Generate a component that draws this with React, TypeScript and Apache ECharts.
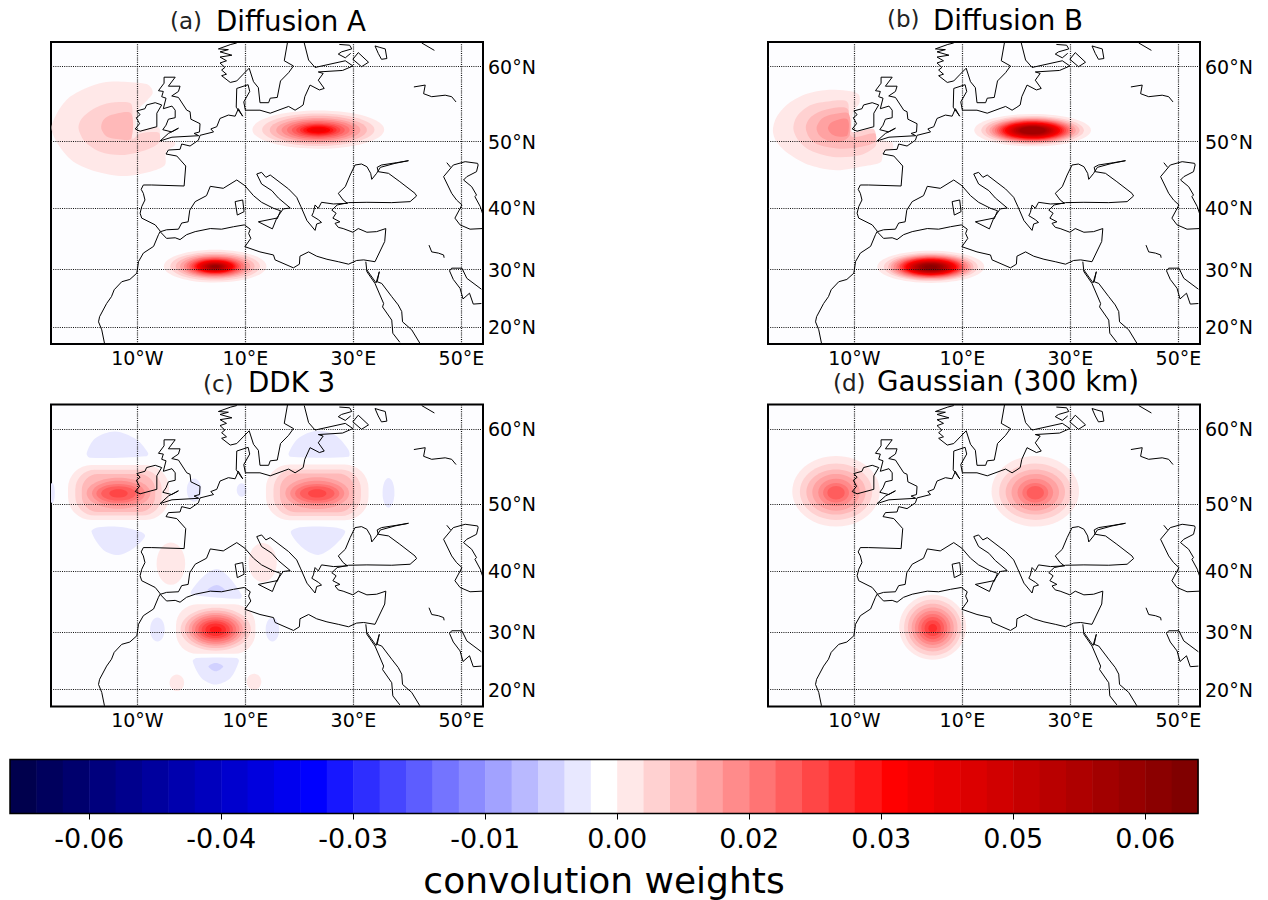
import React, { useEffect, useRef } from "react";
import * as echarts from "echarts";

// ---------- axes ----------
const lonTicks = [-10, 10, 30, 50];
const lonLabels = ["10°W", "10°E", "30°E", "50°E"];
const latTicks = [20, 30, 40, 50, 60];
const latLabels = ["20°N", "30°N", "40°N", "50°N", "60°N"];
// the map's parallels are not evenly spaced: latitude to northing
const latKnots = [17, 20, 30, 40, 50, 60, 63.33];
const northKnots = [0, 17, 74.3, 135.7, 202.3, 277.3, 302];

// ---------- colour scale ----------
const levelEdges = [
  -0.0736, -0.0704, -0.0672, -0.064, -0.0608, -0.0576, -0.0544, -0.0512, -0.048, -0.0448, -0.0416, -0.0384,
  -0.0352, -0.032, -0.0288, -0.0256, -0.0224, -0.0192, -0.016, -0.0128, -0.0096, -0.0064, -0.0032, 0, 0.0032,
  0.0064, 0.0096, 0.0128, 0.016, 0.0192, 0.0224, 0.0256, 0.0288, 0.032, 0.0352, 0.0384, 0.0416, 0.0448, 0.048,
  0.0512, 0.0544, 0.0576, 0.0608, 0.064, 0.0672, 0.0704,
];
const levelColors = [
  "#00004d", "#00005d", "#00006d", "#00007d", "#00008d", "#00009e", "#0000ae", "#0000be", "#0000ce", "#0000de",
  "#0000ef", "#0000ff", "#1717ff", "#2e2eff", "#4646ff", "#5d5dff", "#7474ff", "#8b8bff", "#a2a2ff", "#b9b9ff",
  "#d1d1ff", "#e8e8ff", "#ffffff", "#ffe8e8", "#ffd1d1", "#ffb9b9", "#ffa2a2", "#ff8b8b", "#ff7474", "#ff5d5d",
  "#ff4646", "#ff2e2e", "#ff1717", "#ff0000", "#f30000", "#e80000", "#dc0000", "#d10000", "#c50000", "#b90000",
  "#ae0000", "#a20000", "#970000", "#8b0000", "#800000",
];
const colorbarTicks = [-0.064, -0.048, -0.032, -0.016, 0, 0.016, 0.032, 0.048, 0.064];
const colorbarLabels = ["-0.06", "-0.04", "-0.03", "-0.01", "0.00", "0.02", "0.03", "0.05", "0.06"];

// ---------- coastlines, [lon, lat] ----------
type P = number[];
const greatBritain: P[] = [[-5.06,58.6],[-3,58.6],[-4.26,57.4],[-2.1,57.4],[-2.4,56.7],[-3.64,56.1],[-2.4,55.9],[-0.86,54.2],[-0.25,54],[-0.1,53],[1.6,52.4],[1.5,51.3],[0.5,51.1],[1.36,50.8],[-3.6,50.6],[-5.8,50.1],[-4.26,51.1],[-2.4,51.8],[-3.64,51.3],[-5.3,51.6],[-4.7,52.2],[-4.26,53],[-3,53.2],[-3,54.2],[-3.6,54.75],[-5.2,54.4],[-4.7,55.8],[-5.5,56],[-5.2,56.7],[-6.1,56.8],[-5.06,57.8],[-5.06,58.6]];
const ireland: P[] = [[-10.1,54.1],[-8.6,54.4],[-8.3,54.9],[-6.7,55.2],[-5.5,54.9],[-6.4,53.8],[-6.4,52],[-9.5,51.4],[-10.4,51.7],[-9.6,52.4],[-10.2,53.2],[-9.5,53.6],[-10.1,54.1]];
const scandinavia: P[] = [[8.4,63.2],[7.3,63],[5,62.4],[6.85,62.3],[5.3,62],[7.5,61.55],[5.3,61.3],[6.5,60.8],[5.3,60.5],[6.2,59.9],[5.6,59.55],[6.5,59],[5.6,58.8],[7.2,57.9],[8.4,58.1],[9.6,59],[10.7,59.8],[11.5,58],[12.4,57.2],[12.7,55.2],[14.3,55.2],[14.6,55.8],[15.9,55.9],[16.5,58.1],[18,59.2],[18.9,60.1],[17.2,60.8],[17.8,63.3]];
const baltic: P[] = [[20.9,63.2],[21.7,60.9],[22.9,59.9],[28.5,60.8],[29.9,60.1],[28,59.5],[23.5,59.3],[24.4,59.1],[23.5,58.2],[24.6,57.1],[23.7,56.9],[21.97,57.55],[21,56],[20.7,54.9],[20.1,54.6],[19.2,54.2],[18,54.7],[14.6,53.8],[12.7,54.2],[10,54.2],[9.7,55.3],[10.8,56.7],[10.5,57.6],[8.4,57.1],[8.3,54.6],[9.5,53.4],[8.7,54.4],[8.1,53.4],[6.85,53.55],[5.3,53.1],[4.7,52],[3.6,51.7],[4.1,51.3],[1.6,50.85],[1.3,50.2],[-0.25,49.35],[-1.8,49.65],[-2.1,48.85],[-4.26,48.75],[-4.7,48.15],[-2.7,47.85],[-1.05,46.35],[-1.35,43.35],[-7.35,43.5],[-8.9,43.5],[-9.3,42.85],[-8.9,42.25],[-8.6,41.25],[-9.2,40.25],[-9.5,39.2],[-9.2,38.4],[-6.7,37.3],[-5.7,36.2],[-4.6,36.5],[-2.4,36.6],[-1.8,37.6],[-0.6,37.8],[-0.3,39.7],[0.7,41],[2.8,41.9],[3.5,43.3],[5.9,43],[8.4,44.25],[9.9,43.4],[11.5,41.9],[13,40.9],[15.2,40],[16.5,39.6],[15.9,38.3],[15.8,38.4],[12.4,37.8],[15,36.65],[15.8,38.4],[17,39.9],[18.3,40.05],[16.1,41.55],[14.9,42.65],[13,43.65],[12.1,45.15],[13,45.4],[13.8,44.65],[14.6,45],[18,42.9],[19.5,41.65],[20.25,40.3],[21.4,38],[22.9,36.4],[23.2,37.45],[24.1,37.7],[23.5,38.15],[22.3,38.8],[22.6,39.35],[22.9,40.5],[23.5,40],[24.1,40.9],[26.3,40.65],[28.9,40.75]];
const blackSea: P[] = [[28.9,40.75],[28.1,41.25],[27.2,42.25],[28.5,43.25],[29.4,45],[30.3,46.5],[31.5,46.65],[32.5,46.25],[33.2,45.25],[33.4,44.35],[34.3,45.25],[35,46.15],[37.7,46.75],[40.2,47.15],[38,46.85],[35.2,46.5],[34.4,46.15],[34.6,45.5],[36.5,45.25],[38.6,44],[41.4,42.25],[41.7,41.85],[40.5,41],[37.1,40.85],[32.5,40.9],[29.1,40.85],[27,40.5],[26,39.7],[26.8,39.2],[26.2,38.4],[27.5,37.8],[26.6,37.55],[27.2,36.9],[28.1,36.7],[29.9,36.1],[30.9,36.7],[32.5,36.1],[34.3,36.2],[36,36.7],[35.8,34.6],[34,31.3],[31.9,31.6],[30.6,31.5],[29.1,30.9],[27.2,31.3],[25.1,31.7],[23.2,32.2],[21.7,32.9],[20.1,32.2],[20,30.9],[18.9,30.3],[15.5,31.6],[15.2,32.4],[12.7,32.9],[9.9,33.75],[11,35.1],[10.6,35.9],[10.9,36.6],[9.8,37.3],[7.8,37],[5.6,36.6],[3.5,36.7],[0.7,36.2],[-0.9,35.7],[-2.1,34.9],[-3,35.2],[-4.6,35.1],[-5.8,36.2],[-6.1,35.7],[-7,33.8],[-8.9,32.7],[-9.8,31.3],[-10.1,29.4],[-11.4,28.3],[-12.9,27.9],[-14.3,26.5],[-14.8,25.3],[-15.7,24.1],[-17,21.8],[-17.2,20.9],[-16.6,19.5],[-16.1,17.15]];
const corsica: P[] = [[8.1,41],[9.5,41.25],[9.75,39.45],[8.5,38.9],[8.1,41]];
const redSeaWest: P[] = [[32.3,31.3],[32.5,29.65],[34,27.6],[35.6,24.1],[35.4,23.5],[37.1,21.2],[37.3,18.9],[38.6,17.3]];
const redSeaEast: P[] = [[32.5,29.95],[34.2,27.7],[34.8,29.65],[34.4,27.9],[35.25,27.6],[37.1,25.3],[38.3,23.85],[38.95,22.7],[39.1,20.9],[40.8,19.5],[42.3,17.15]];
const persianGulf: P[] = [[53.7,26.6],[51,28.5],[50.1,30.25],[48.2,30.25],[47.8,29.8],[48.5,28.3],[49.75,26.75],[50.3,24.9],[51.5,25.9],[52.2,24],[53.7,24.1]];
const tigris: P[] = [[44,34],[44.5,32.9],[45.75,32.7],[46.7,32.4],[46.8,31.95]];
const caspianWest: P[] = [[53,46.75],[50.7,47],[48.5,46.5],[46.7,44.75],[48.2,42.25],[49.1,41.25],[50.1,40.5],[48.8,38.4],[49.75,37.3],[51.6,36.6],[53.9,36.7]];
const caspianEast: P[] = [[53,46.75],[53.1,46.5],[52.8,45.5],[51,44.75],[50.4,44.25],[51.9,43.25],[52.8,42],[52.5,41.75],[53.5,40.25],[53.9,39.2]];
const azov: P[] = [[47.3,46.85],[48,46.15]];
const ladoga: P[] = [[30.9,61.9],[32.8,60.6],[31.5,60],[29.9,61],[30.9,61.9]];
const onega: P[] = [[34,62.8],[34.9,62.6],[35.9,62.4],[36.2,61.1],[35.2,61],[34.6,61.8],[34,62.8]];
const saimaa: P[] = [[27.4,63],[29.3,62.9],[29.7,62.4],[27.8,62],[27.2,61.7],[28.5,61.2],[29.5,61.8]];
const whiteSea: P[] = [[42.65,63.2],[45,62.2]];
const volga: P[] = [[41.2,57.3],[43.3,57.55],[43,56.4],[44.5,56],[47,56.2],[48.2,56],[49,55.3]];
const coastlines = [greatBritain, ireland, scandinavia, baltic, blackSea, corsica, redSeaWest, redSeaEast, persianGulf, tigris, caspianWest, caspianEast, azov, ladoga, onega, saimaa, whiteSea, volga];

// ---------- weights, contour rings by level (level 23 is the first pink) ----------
const aWest1: P[] = [[-25.9,51.8],[-24.9,53.8],[-22.8,55.8],[-19.7,57.1],[-16.3,57.9],[-12.9,58],[-8.3,57.7],[-7.35,57.1],[-7.2,56.4],[-8.1,55.6],[-9.8,54.2],[-10.1,51.6],[-6.4,52],[-5.8,51.6],[-5.7,50.1],[-3.3,50.1],[-3,49.5],[-4.7,48.5],[-4.9,46.5],[-7.65,45.5],[-12.6,44.85],[-17.5,45.5],[-21.85,47],[-24.6,49.5]];
const aWest2: P[] = [[-20.9,51.8],[-20.3,53.1],[-18.1,54.4],[-15.7,55.1],[-12.6,55.3],[-11.2,55.1],[-10.9,54],[-10.9,50.4],[-9.5,51.1],[-6.7,51.3],[-5.9,51.1],[-5.9,50],[-7,49.25],[-10.1,48.35],[-13.2,48],[-16.9,48.5],[-19.7,50]];
const aWest3: P[] = [[-16.7,51.8],[-16.3,52.9],[-14.75,53.6],[-11.2,53.8],[-11.2,50.4],[-13.8,50.35],[-15.7,50.7]];
const aEastLon = [12.2, 10.4, 9.0, 7.8, 6.8, 5.8, 4.9, 4.1, 3.4, 2.8, 2.2, 1.5];
const aEastLat = [2.6, 2.2, 1.9, 1.62, 1.4, 1.2, 1.02, 0.85, 0.72, 0.58, 0.45, 0.3];
const aSouthLon = [9.5, 8.3, 7.3, 6.5, 5.8, 5.3, 4.8, 4.4, 4.0, 3.7, 3.4, 3.1, 2.8, 2.5, 2.2, 1.9, 1.6, 1.3, 1.0, 0.7];
const aSouthLat = [2.75, 2.4, 2.1, 1.9, 1.7, 1.55, 1.4, 1.28, 1.17, 1.08, 0.99, 0.9, 0.81, 0.73, 0.64, 0.55, 0.46, 0.38, 0.29, 0.2];

const bWest1: P[] = [[-25.1,51.5],[-24.4,53.3],[-22.2,55.1],[-18.8,56.4],[-15.1,56.9],[-11.4,56.8],[-9.9,56.6],[-9.1,56.2],[-9.1,55.1],[-10.2,54],[-10.5,51.5],[-9.9,49.95],[-6.2,50.2],[-3.1,49.95],[-2.9,48.95],[-4.6,48.45],[-5.1,46.95],[-8.3,46.3],[-13.3,45.7],[-18.2,46.45],[-22.2,48.2],[-24.4,49.95]];
const bWest2: P[] = [[-21.3,51.7],[-20.7,53.3],[-18.2,54.85],[-14.5,55.4],[-11.3,55.3],[-11.1,52.85],[-10.5,51.3],[-6.5,51.7],[-5.9,50.2],[-6.2,49.2],[-9,47.95],[-13.9,47.7],[-18.2,48.7],[-20.4,50.2]];
const bWest3: P[] = [[-19,51.9],[-18.2,53.2],[-15.7,54.2],[-11.3,54.4],[-11.1,51.5],[-10.2,50.6],[-6.2,51.1],[-6.2,49.95],[-9,49.2],[-12.65,48.95],[-16.4,49.45],[-18.2,50.4]];
const bWest4: P[] = [[-17,51.9],[-16,53.1],[-13.9,53.65],[-11.1,53.75],[-10.9,50.85],[-12.65,49.95],[-15.1,50.2],[-16.5,50.85]];
const bWest5: P[] = [[-14.9,51.8],[-14.2,52.6],[-11.3,53],[-11.3,50.85],[-13,50.7],[-14.2,51]];
const bEastLon = [10.8, 9.5, 8.7, 8.0, 7.5, 7.0, 6.6, 6.2, 5.8, 5.5, 5.1, 4.8, 4.5, 4.1, 3.8, 3.5, 3.1, 2.7, 2.4];
const bEastLat = [2.2, 1.94, 1.77, 1.63, 1.52, 1.43, 1.34, 1.26, 1.18, 1.11, 1.04, 0.97, 0.91, 0.84, 0.77, 0.71, 0.64, 0.56, 0.48];
const bSouthLon = [9.9, 8.7, 7.9, 7.4, 6.9, 6.4, 6.0, 5.7, 5.3, 5.0, 4.7, 4.4, 4.1, 3.8, 3.5, 3.2, 2.9, 2.5, 2.2, 1.7, 1.2];
const bSouthLat = [2.7, 2.38, 2.17, 2.0, 1.87, 1.75, 1.64, 1.54, 1.45, 1.36, 1.28, 1.2, 1.11, 1.03, 0.95, 0.87, 0.78, 0.69, 0.59, 0.47, 0.33];

const cWestLon = [9.35, 8.0, 6.8, 5.9, 4.9, 4.1, 3.2, 1.7];
const cWestLat = [3.8, 3.15, 2.6, 2.1, 1.7, 1.25, 0.95, 0.55];
const cEastLon = [9.5, 8.1, 6.9, 5.9, 5.0, 4.1, 3.2, 1.7];
const cEastLat = [3.85, 3.2, 2.65, 2.15, 1.7, 1.25, 0.95, 0.55];
const cSouthLon = [7.35, 6.5, 5.7, 5.0, 4.4, 3.8, 3.2, 2.6, 1.9, 1.1];
const cSouthLat = [4.15, 3.6, 3.15, 2.75, 2.4, 2.05, 1.7, 1.4, 1.05, 0.55];
const cTopWest: P[] = [[-19.4,56.8],[-17.8,58.8],[-14.1,59.7],[-10.1,58.6],[-8,56.8],[-8.3,56.4],[-18.8,56.2]];
const cBottomWest: P[] = [[-18.5,45.9],[-17.2,46.55],[-12.6,46.55],[-8.6,45.4],[-10.7,43.4],[-13.5,42.4],[-16.3,43.15]];
const cTopEast: P[] = [[18,56.8],[19.8,58.8],[23.2,59.8],[26.6,59.25],[29.1,57.25],[29.1,56.35],[18.3,56.35]];
const cBottomEast: P[] = [[18.4,45.8],[20.1,46.55],[26.3,46.55],[28.5,45.9],[26.3,43.65],[23.5,42.4],[20.7,43.4]];
const cAboveSouth: P[] = [[-0.1,36.65],[2.2,39.1],[4.7,40.3],[6.85,39.1],[9.3,36.1],[9,35.45],[0.06,36.1]];
const cAboveSouthCore: P[] = [[3,36.9],[4.7,37.7],[6.2,36.9],[4.7,36.5]];
const cBelowSouth: P[] = [[0.25,24.95],[1,25.5],[8.4,25.5],[8.8,24.95],[7.2,22],[4.4,20.9],[1.9,22]];
const cBelowSouthCore: P[] = [[3.15,24.05],[4.5,24.65],[5.9,24.05],[4.5,23.2]];
// lon, lat, half-width, half-height, level
const cSideLobes: number[][] = [
  [-6.3, 30.4, 1.35, 2.0, 21], [15.0, 30.4, 1.25, 2.0, 21], [-25.8, 51.5, 0.5, 1.35, 21], [36.5, 51.5, 1.1, 2.0, 21],
  [9.3, 51.9, 0.9, 0.9, 21], [0.5, 51.9, 1.35, 1.55, 21], [-3.8, 41, 2.65, 3.25, 23], [13.2, 41.2, 2.6, 3.0, 23],
  [-2.7, 21.2, 1.35, 1.45, 23], [11.6, 21.35, 1.35, 1.4, 23],
];

const dNorthLon = [8.1, 6.7, 5.5, 4.4, 3.3, 2.4, 1.6];
const dNorthLat = [4.9, 3.9, 3.1, 2.5, 1.85, 1.3, 0.9];
const dSouthLon = [6.2, 5.3, 4.6, 3.9, 3.3, 2.7, 2.1, 1.5, 0.8];
const dSouthLat = [5.45, 4.7, 4.0, 3.4, 2.85, 2.35, 1.85, 1.3, 0.7];

type Mark = { level: number; points?: P[]; lon?: number; lat?: number; rx?: number; ry?: number; boxy?: boolean };
const poly = (points: P[], level: number): Mark => ({ points, level });
const rings = (lon: number, lat: number, rLon: number[], rLat: number[], boxyCount = 0): Mark[] =>
  rLon.map((rx, i) => ({ lon, lat, rx, ry: rLat[i], level: 23 + i, boxy: i < boxyCount }));

const panelMarks: Mark[][] = [
  [poly(aWest1, 23), poly(aWest2, 24), poly(aWest3, 25), ...rings(23.5, 51.55, aEastLon, aEastLat), ...rings(4.4, 30.5, aSouthLon, aSouthLat)],
  [poly(bWest1, 23), poly(bWest2, 24), poly(bWest3, 25), poly(bWest4, 26), poly(bWest5, 27), ...rings(23.0, 51.5, bEastLon, bEastLat), ...rings(4.15, 30.4, bSouthLon, bSouthLat)],
  [
    poly(cTopWest, 21), poly(cBottomWest, 21), poly(cTopEast, 21), poly(cBottomEast, 21),
    poly(cAboveSouth, 21), poly(cAboveSouthCore, 20), poly(cBelowSouth, 21), poly(cBelowSouthCore, 20),
    ...cSideLobes.map(([lon, lat, rx, ry, level]) => ({ lon, lat, rx, ry, level })),
    ...rings(-13.5, 51.45, cWestLon, cWestLat, 3), ...rings(23.3, 51.45, cEastLon, cEastLat, 3), ...rings(4.5, 30.4, cSouthLon, cSouthLat, 1),
  ],
  [...rings(-13.4, 51.55, dNorthLon, dNorthLat), ...rings(23.5, 51.55, dNorthLon, dNorthLat), ...rings(4.5, 30.65, dSouthLon, dSouthLat)],
];

const panelTitles = [
  { tag: "(a)", name: "Diffusion A", tagX: 170, nameX: 216, tagBottom: 32, nameBottom: 32 },
  { tag: "(b)", name: "Diffusion B", tagX: 887, nameX: 933, tagBottom: 30, nameBottom: 31 },
  { tag: "(c)", name: "DDK 3", tagX: 203, nameX: 248, tagBottom: 395, nameBottom: 393 },
  { tag: "(d)", name: "Gaussian (300 km)", tagX: 833, nameX: 877, tagBottom: 394, nameBottom: 392 },
];
const panelBoxes = [
  { left: 51, top: 42 },
  { left: 768, top: 42 },
  { left: 51, top: 404.6 },
  { left: 768, top: 404.6 },
];

const FONT = '"DejaVu Sans", sans-serif';

function project(lat: number): number {
  let i = 0;
  while (i < latKnots.length - 2 && lat > latKnots[i + 1]) i++;
  const f = (lat - latKnots[i]) / (latKnots[i + 1] - latKnots[i]);
  return northKnots[i] + f * (northKnots[i + 1] - northKnots[i]);
}

function labelFor(values: number[], labels: string[]) {
  return (v: number) => {
    let best = 0;
    values.forEach((t, i) => {
      if (Math.abs(t - v) < Math.abs(values[best] - v)) best = i;
    });
    return labels[best];
  };
}

function blobRenderer(marks: Mark[]) {
  return (_params: any, api: any) => {
    const m = marks[api.value(0)];
    const style = { fill: levelColors[m.level] };
    if (m.points) {
      return { type: "polygon", shape: { points: m.points.map(([lon, lat]) => api.coord([lon, project(lat)])), smooth: 0.3 }, style };
    }
    const west = api.coord([m.lon! - m.rx!, project(m.lat!)]);
    const east = api.coord([m.lon! + m.rx!, project(m.lat!)]);
    const top = api.coord([m.lon!, project(m.lat! + m.ry!)]);
    const bottom = api.coord([m.lon!, project(m.lat! - m.ry!)]);
    const rx = (east[0] - west[0]) / 2;
    const ry = (bottom[1] - top[1]) / 2;
    if (m.boxy) {
      return { type: "rect", shape: { x: west[0], y: top[1], width: rx * 2, height: ry * 2, r: ry * 0.85 }, style };
    }
    return { type: "ellipse", shape: { cx: west[0] + rx, cy: top[1] + ry, rx, ry }, style };
  };
}

function buildOption() {
  const grid: any[] = [];
  const xAxis: any[] = [];
  const yAxis: any[] = [];
  const series: any[] = [];
  const dotted = { color: "#111", width: 1.2, type: [1, 1.2] as number[] };

  panelBoxes.forEach((box, p) => {
    grid.push({
      show: true, left: box.left, top: box.top, width: 432, height: 302, outerBoundsMode: "none",
      backgroundColor: "#fdfdff", borderColor: "#000", borderWidth: 2,
    });
    xAxis.push({
      type: "value", gridIndex: p, min: -26, max: 54, z: 2,
      axisLine: { show: false }, axisTick: { show: false, customValues: lonTicks },
      splitLine: { show: true, lineStyle: dotted },
      axisLabel: {
        customValues: lonTicks, formatter: labelFor(lonTicks, lonLabels),
        fontFamily: FONT, fontSize: 19, color: "#000", margin: 4, hideOverlap: false,
      },
    });
    const north = latTicks.map(project);
    yAxis.push({
      type: "value", gridIndex: p, min: 0, max: 302, position: "right", z: 2,
      axisLine: { show: false }, axisTick: { show: false, customValues: north },
      splitLine: { show: true, lineStyle: dotted },
      axisLabel: {
        customValues: north, formatter: labelFor(north, latLabels),
        fontFamily: FONT, fontSize: 19, color: "#000", margin: 5, padding: [0, 0, 4, 0],
      },
    });
    series.push({
      type: "custom", xAxisIndex: p, yAxisIndex: p, z: 1, clip: true, silent: true,
      renderItem: blobRenderer(panelMarks[p]),
      encode: { x: 0, y: 1 },
      data: panelMarks[p].map((_, i) => [i, 0]),
    });
    coastlines.forEach((coast) => {
      series.push({
        type: "line", xAxisIndex: p, yAxisIndex: p, z: 3, silent: true, showSymbol: false, clip: true,
        lineStyle: { color: "#000", width: 1 },
        data: coast.map(([lon, lat]) => [lon, project(lat)]),
      });
    });
  });

  const cb = panelBoxes.length;
  grid.push({ show: true, left: 10, top: 759.5, width: 1188, height: 54, z: 5, outerBoundsMode: "none", backgroundColor: "transparent", borderColor: "#000", borderWidth: 1.5 });
  xAxis.push({
    type: "value", gridIndex: cb, min: levelEdges[0], max: levelEdges[levelEdges.length - 1],
    axisLine: { show: false }, splitLine: { show: false },
    axisTick: { show: true, customValues: colorbarTicks, length: 6, lineStyle: { color: "#000", width: 1 } },
    axisLabel: {
      customValues: colorbarTicks, formatter: labelFor(colorbarTicks, colorbarLabels),
      fontFamily: FONT, fontSize: 27, color: "#000", margin: 11,
    },
    name: "convolution weights", nameLocation: "middle", nameGap: 47,
    nameTextStyle: { fontFamily: FONT, fontSize: 36, color: "#000", lineHeight: 40 },
  });
  yAxis.push({ type: "value", gridIndex: cb, min: 0, max: 1, show: false });
  series.push({
    type: "custom", xAxisIndex: cb, yAxisIndex: cb, silent: true, z: 1,
    encode: { x: 0, y: 1 },
    renderItem: (_params: any, api: any) => {
      const i = api.value(2);
      const a = api.coord([levelEdges[i], 1]);
      const b = api.coord([levelEdges[i + 1], 0]);
      return { type: "rect", shape: { x: a[0], y: a[1], width: b[0] - a[0] + 0.5, height: b[1] - a[1] }, style: { fill: levelColors[i] } };
    },
    data: levelColors.map((_, i) => [levelEdges[i], 0, i]),
  });

  const graphic: any[] = [];
  panelTitles.forEach((t) => {
    graphic.push({
      type: "text", x: t.tagX, y: t.tagBottom, silent: true,
      style: { text: t.tag, fill: "#222", font: `23px ${FONT}`, textVerticalAlign: "bottom", textAlign: "left" },
    });
    graphic.push({
      type: "text", x: t.nameX, y: t.nameBottom, silent: true,
      style: { text: t.name, fill: "#000", font: `27.7px ${FONT}`, lineHeight: 22, textVerticalAlign: "bottom", textAlign: "left" },
    });
  });

  return { animation: false, backgroundColor: "#fff", grid, xAxis, yAxis, series, graphic };
}

export default function App() {
  const ref = useRef<HTMLDivElement>(null);
  useEffect(() => {
    document.body.style.margin = "0";
    const chart = echarts.init(ref.current!, undefined, { renderer: "svg" });
    chart.setOption(buildOption() as any);
    return () => chart.dispose();
  }, []);
  return <div ref={ref} style={{ position: "absolute", left: 0, top: 0, width: 1268, height: 900 }} />;
}
